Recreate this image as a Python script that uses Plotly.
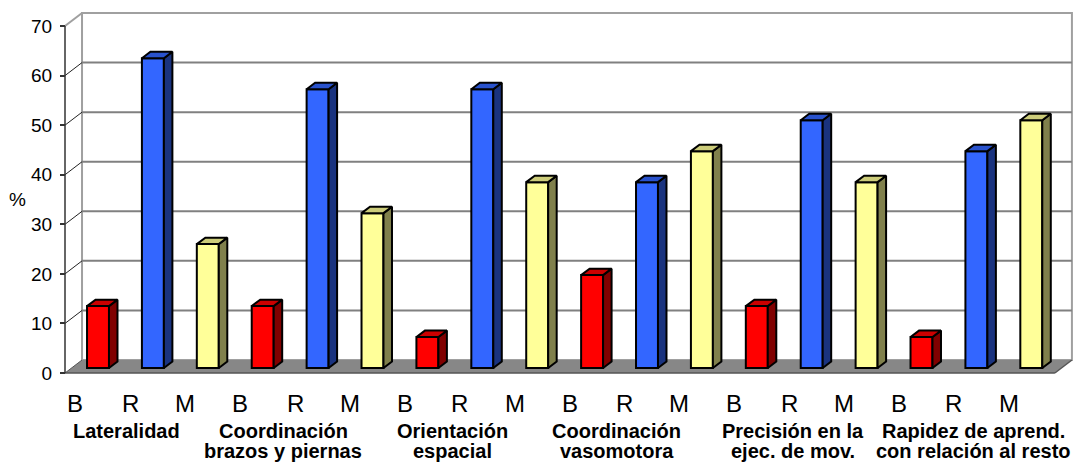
import plotly.graph_objects as go

# ---- data -------------------------------------------------------------
series = ["B", "R", "M"]
group_line1 = ["Lateralidad", "Coordinación", "Orientación",
               "Coordinación", "Precisión en la", "Rapidez de aprend."]
group_line2 = ["", "brazos y piernas", "espacial",
               "vasomotora", "ejec. de mov.", "con relación al resto"]
pct_B = [12.5, 12.5, 6.25, 18.75, 12.5, 6.25]
pct_R = [62.5, 56.25, 56.25, 37.5, 50.0, 43.75]
pct_M = [25.0, 31.25, 37.5, 43.75, 37.5, 50.0]
y_ticks = [0, 10, 20, 30, 40, 50, 60, 70]

# ---- style ------------------------------------------------------------
FONT = "Liberation Sans, Arial, sans-serif"
# (front, top, side) shades per series
face_colors = {
    "B": ("#FF0000", "#CC0000", "#800000"),
    "R": ("#3366FF", "#2952CC", "#1A337F"),
    "M": ("#FFFF99", "#CCCC7A", "#80804C"),
}
GRID = "#808080"
WALL_EDGE = "#A0A0A0"
FLOOR = "#878787"

# page / plot geometry
W, H = 1090, 465
ML, MR, MT, MB = 58, 10, 5, 87
SLOT0_PX, PX_PER_SLOT = 98, 54.9      # horizontal scale (one slot per bar)
ZERO_PX, PX_PER_PCT = 373, 4.957      # vertical scale of the front plane

x_range = [(ML - SLOT0_PX) / PX_PER_SLOT, (W - MR - SLOT0_PX) / PX_PER_SLOT]
y_range = [(ZERO_PX - (H - MB)) / PX_PER_PCT, (ZERO_PX - MT) / PX_PER_PCT]
plot_w = W - ML - MR
plot_h = H - MT - MB

def paper_y(py):
    return (H - MB - py) / plot_h

def paper_x(px):
    return (px - ML) / plot_w

# 3-D box geometry (data units)
X_LEFT = (65 - SLOT0_PX) / PX_PER_SLOT
X_RIGHT = 17.43
WALL_DX, WALL_DY = 0.31, 2.62
BAR_W = 0.4
BAR_BASE = 1.0
BAR_DX, BAR_DY = 0.155, 1.3
Y_MAX = y_ticks[-1]

fig = go.Figure()

# ---- bars: front faces as bars, top/side faces as filled outlines ------
n_series = len(series)
for k, (name, vals) in enumerate(zip(series, [pct_B, pct_R, pct_M])):
    xs = [n_series * g + k for g in range(len(vals))]
    front, top, side = face_colors[name]
    fig.add_trace(go.Bar(
        x=xs, y=vals, base=BAR_BASE, width=BAR_W, name=name,
        marker=dict(color=front, line=dict(color="black", width=2)),
        hoverinfo="skip", showlegend=False,
    ))
    tx, ty, sx, sy = [], [], [], []
    for x, v in zip(xs, vals):
        l, r = x - BAR_W / 2, x + BAR_W / 2
        t = BAR_BASE + v
        tx += [l, r, r + BAR_DX, l + BAR_DX, l, None]
        ty += [t, t, t + BAR_DY, t + BAR_DY, t, None]
        sx += [r, r + BAR_DX, r + BAR_DX, r, r, None]
        sy += [BAR_BASE, BAR_BASE + BAR_DY, t + BAR_DY, t, BAR_BASE, None]
    for px_, py_, col in ((sx, sy, side), (tx, ty, top)):
        fig.add_trace(go.Scatter(
            x=px_, y=py_, mode="lines", fill="toself", fillcolor=col,
            line=dict(color="black", width=2), hoverinfo="skip",
            showlegend=False,
        ))

# ---- walls, floor, gridlines -------------------------------------------
shapes = []
bx0, bx1 = X_LEFT + WALL_DX, X_RIGHT + WALL_DX
# back wall
shapes.append(dict(type="rect", xref="x", yref="y", x0=bx0, x1=bx1,
                   y0=WALL_DY, y1=Y_MAX + WALL_DY, fillcolor="white",
                   line=dict(color=WALL_EDGE, width=2), layer="below"))
for v in y_ticks[1:-1]:
    shapes.append(dict(type="line", xref="x", yref="y", x0=bx0, x1=bx1,
                       y0=v + WALL_DY, y1=v + WALL_DY,
                       line=dict(color=GRID, width=2), layer="below"))
    # side-wall connectors
    shapes.append(dict(type="line", xref="x", yref="y", x0=X_LEFT, x1=bx0,
                       y0=v, y1=v + WALL_DY,
                       line=dict(color="#222222", width=1), layer="below"))
shapes.append(dict(type="line", xref="x", yref="y", x0=X_LEFT, x1=bx0,
                   y0=Y_MAX, y1=Y_MAX + WALL_DY,
                   line=dict(color=WALL_EDGE, width=2), layer="below"))
# floor
shapes.append(dict(
    type="path", xref="x", yref="y", layer="below",
    path=(f"M {X_LEFT},0 L {X_RIGHT},0 L {bx1},{WALL_DY} "
          f"L {bx0},{WALL_DY} Z"),
    fillcolor=FLOOR, line=dict(width=0)))
shapes.append(dict(type="line", xref="x", yref="y", x0=X_LEFT, x1=X_RIGHT,
                   y0=0, y1=0, line=dict(color="#555555", width=1.5),
                   layer="below"))
shapes.append(dict(type="line", xref="x", yref="y", x0=X_RIGHT, x1=bx1,
                   y0=0, y1=WALL_DY, line=dict(color="#555555", width=1.5),
                   layer="below"))
shapes.append(dict(type="line", xref="x", yref="y", x0=X_LEFT, x1=bx0,
                   y0=0, y1=WALL_DY, line=dict(color="#555555", width=1),
                   layer="below"))
# front value axis
shapes.append(dict(type="line", xref="x", yref="y", x0=X_LEFT, x1=X_LEFT,
                   y0=0, y1=Y_MAX, line=dict(color="#333333", width=1.5),
                   layer="below"))

# ---- category labels ------------------------------------------------------
annotations = []
LETTER_SHIFT = -0.41
for g in range(len(group_line1)):
    for k, name in enumerate(series):
        annotations.append(dict(
            x=n_series * g + k + LETTER_SHIFT, y=paper_y(403),
            xref="x", yref="paper", text=name, showarrow=False,
            xanchor="center", yanchor="middle",
            font=dict(family=FONT, size=24, color="black")))

label_shift = [-0.49, -0.63, -0.55, -0.55, -0.34, -0.05]
for g, (l1, l2) in enumerate(zip(group_line1, group_line2)):
    cx = n_series * g + 1 + label_shift[g]
    for text, py in ((l1, 431), (l2, 451)):
        if not text:
            continue
        annotations.append(dict(
            x=cx, y=paper_y(py), xref="x", yref="paper",
            text=f"<b>{text}</b>", showarrow=False,
            xanchor="center", yanchor="middle",
            font=dict(family=FONT, size=20, color="black")))

annotations.append(dict(
    x=paper_x(17), y=paper_y(199), xref="paper", yref="paper", text="%",
    showarrow=False, xanchor="center", yanchor="middle",
    font=dict(family=FONT, size=19, color="black")))

fig.update_layout(
    width=W, height=H,
    margin=dict(l=ML, r=MR, t=MT, b=MB, pad=0),
    paper_bgcolor="white", plot_bgcolor="white",
    barmode="overlay",
    shapes=shapes, annotations=annotations,
    xaxis=dict(range=x_range, visible=False, fixedrange=True),
    yaxis=dict(
        range=y_range, anchor="free", position=paper_x(65),
        tickvals=y_ticks, ticktext=[str(v) for v in y_ticks],
        ticks="outside", ticklen=5, tickwidth=1.5, tickcolor="#333333",
        ticklabelstandoff=4,
        tickfont=dict(family=FONT, size=19, color="black"),
        showgrid=False, zeroline=False, showline=False, fixedrange=True,
    ),
)

fig.write_html("out.html", config={"displayModeBar": False})
